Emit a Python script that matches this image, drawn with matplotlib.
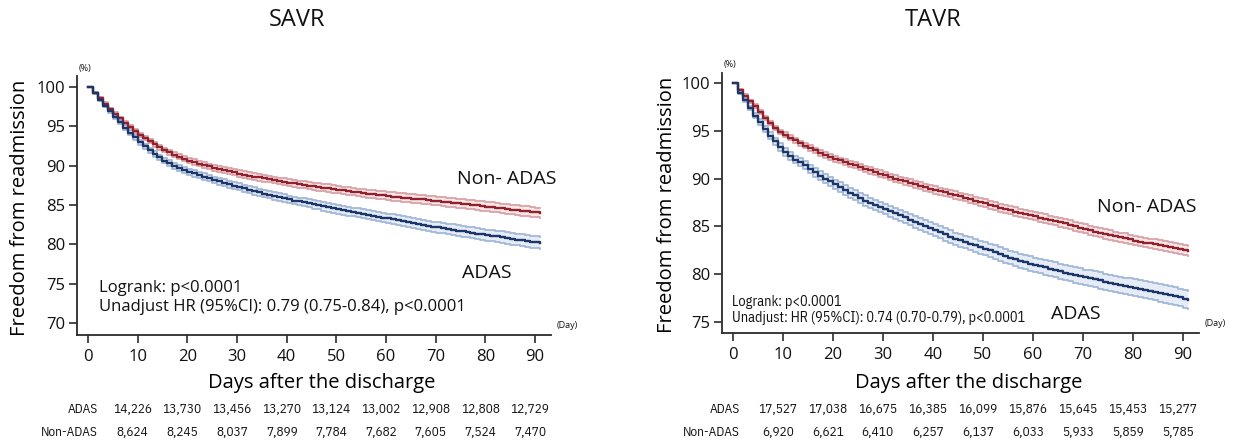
import matplotlib
matplotlib.use("Agg")
import matplotlib.pyplot as plt
import matplotlib.transforms as mtransforms

# ---- data (one value per day, 0..91) ----
DAYS = list(range(0, 92))

savr_non = [100, 99.3, 98.6, 97.9, 97.2, 96.6, 96.0, 95.4, 94.9, 94.4,
            93.9, 93.5, 93.1, 92.7, 92.35, 92.0, 91.7, 91.4, 91.15, 90.9,
            90.65, 90.45, 90.25, 90.07, 89.9, 89.75, 89.6, 89.45, 89.3, 89.15,
            89.0, 88.87, 88.75, 88.62, 88.5, 88.4, 88.3, 88.17, 88.05, 87.95,
            87.85, 87.75, 87.65, 87.55, 87.45, 87.38, 87.3, 87.22, 87.15, 87.05,
            86.95, 86.87, 86.8, 86.7, 86.6, 86.52, 86.45, 86.37, 86.3, 86.22,
            86.15, 86.07, 86.0, 85.95, 85.9, 85.82, 85.75, 85.7, 85.65, 85.57,
            85.5, 85.42, 85.35, 85.3, 85.25, 85.17, 85.1, 85.02, 84.95, 84.87,
            84.8, 84.72, 84.65, 84.57, 84.5, 84.42, 84.35, 84.27, 84.2, 84.12,
            84.05, 84.0]
savr_adas = [100, 99.2, 98.4, 97.6, 96.9, 96.2, 95.5, 94.85, 94.2, 93.6,
             93.0, 92.45, 91.95, 91.5, 91.05, 90.65, 90.3, 90.0, 89.75, 89.5,
             89.25, 89.02, 88.8, 88.6, 88.4, 88.2, 88.0, 87.82, 87.65, 87.47,
             87.3, 87.12, 86.95, 86.77, 86.6, 86.45, 86.3, 86.15, 86.0, 85.85,
             85.7, 85.57, 85.45, 85.32, 85.2, 85.07, 84.95, 84.82, 84.7, 84.57,
             84.45, 84.32, 84.2, 84.1, 84.0, 83.87, 83.75, 83.62, 83.5, 83.4,
             83.3, 83.2, 83.1, 82.97, 82.85, 82.72, 82.6, 82.47, 82.35, 82.25,
             82.15, 82.05, 81.95, 81.85, 81.75, 81.65, 81.55, 81.45, 81.35, 81.25,
             81.15, 81.07, 81.0, 80.9, 80.8, 80.7, 80.6, 80.52, 80.45, 80.35,
             80.25, 80.2]
savr_non_ci = [0, 0.1, 0.13, 0.16, 0.18, 0.2, 0.22, 0.23, 0.24, 0.25,
               0.26, 0.27, 0.28, 0.29, 0.3, 0.31, 0.31, 0.32, 0.33, 0.33,
               0.34, 0.35, 0.35, 0.36, 0.36, 0.37, 0.37, 0.38, 0.38, 0.39,
               0.39, 0.40, 0.40, 0.41, 0.41, 0.42, 0.42, 0.43, 0.43, 0.43,
               0.44, 0.44, 0.44, 0.45, 0.45, 0.46, 0.46, 0.46, 0.47, 0.47,
               0.48, 0.48, 0.48, 0.49, 0.49, 0.50, 0.50, 0.50, 0.51, 0.51,
               0.52, 0.52, 0.52, 0.53, 0.53, 0.54, 0.54, 0.54, 0.55, 0.55,
               0.56, 0.56, 0.56, 0.57, 0.57, 0.58, 0.58, 0.58, 0.59, 0.59,
               0.60, 0.60, 0.60, 0.61, 0.61, 0.61, 0.62, 0.62, 0.62, 0.63,
               0.63, 0.63]
savr_adas_ci = [0, 0.12, 0.16, 0.19, 0.21, 0.23, 0.25, 0.27, 0.28, 0.3,
                0.31, 0.32, 0.33, 0.34, 0.35, 0.36, 0.37, 0.37, 0.38, 0.39,
                0.39, 0.40, 0.40, 0.41, 0.41, 0.42, 0.42, 0.43, 0.43, 0.44,
                0.44, 0.45, 0.45, 0.46, 0.46, 0.47, 0.47, 0.48, 0.48, 0.49,
                0.49, 0.50, 0.50, 0.51, 0.51, 0.52, 0.52, 0.53, 0.53, 0.54,
                0.54, 0.55, 0.55, 0.56, 0.56, 0.57, 0.57, 0.58, 0.58, 0.59,
                0.59, 0.60, 0.61, 0.61, 0.62, 0.62, 0.63, 0.63, 0.64, 0.64,
                0.65, 0.66, 0.66, 0.67, 0.67, 0.68, 0.68, 0.69, 0.70, 0.70,
                0.71, 0.71, 0.72, 0.73, 0.73, 0.74, 0.74, 0.75, 0.76, 0.76,
                0.77, 0.78]

tavr_non = [100, 99.3, 98.7, 98.1, 97.6, 97.0, 96.4, 95.8, 95.3, 94.9,
            94.6, 94.3, 94.0, 93.7, 93.45, 93.2, 92.95, 92.7, 92.5, 92.3,
            92.1, 91.9, 91.7, 91.55, 91.4, 91.2, 91.0, 90.85, 90.7, 90.52,
            90.35, 90.17, 90.0, 89.85, 89.7, 89.55, 89.4, 89.25, 89.1, 88.95,
            88.8, 88.67, 88.55, 88.42, 88.3, 88.15, 88.0, 87.85, 87.7, 87.55,
            87.4, 87.25, 87.1, 86.95, 86.8, 86.67, 86.55, 86.42, 86.3, 86.17,
            86.05, 85.92, 85.8, 85.67, 85.55, 85.42, 85.3, 85.15, 85.0, 84.87,
            84.75, 84.6, 84.45, 84.32, 84.2, 84.07, 83.95, 83.85, 83.75, 83.62,
            83.5, 83.4, 83.3, 83.2, 83.1, 83.0, 82.9, 82.82, 82.75, 82.62,
            82.5, 82.4]
tavr_adas = [100, 99.0, 98.2, 97.4, 96.6, 95.9, 95.2, 94.5, 93.9, 93.3,
             92.8, 92.4, 92.0, 91.7, 91.4, 91.0, 90.65, 90.3, 90.0, 89.7,
             89.4, 89.1, 88.8, 88.52, 88.25, 87.97, 87.7, 87.47, 87.25, 87.02,
             86.8, 86.57, 86.35, 86.15, 85.95, 85.7, 85.45, 85.22, 85.0, 84.8,
             84.6, 84.37, 84.15, 83.92, 83.7, 83.52, 83.35, 83.17, 83.0, 82.82,
             82.65, 82.47, 82.3, 82.1, 81.9, 81.72, 81.55, 81.4, 81.25, 81.1,
             80.95, 80.82, 80.7, 80.57, 80.45, 80.3, 80.15, 80.02, 79.9, 79.77,
             79.65, 79.55, 79.45, 79.32, 79.2, 79.07, 78.95, 78.85, 78.75, 78.65,
             78.55, 78.45, 78.35, 78.25, 78.15, 78.02, 77.9, 77.8, 77.7, 77.55,
             77.4, 77.25]
tavr_non_ci = [0, 0.1, 0.13, 0.16, 0.18, 0.2, 0.21, 0.22, 0.23, 0.24,
               0.25, 0.26, 0.27, 0.27, 0.28, 0.29, 0.29, 0.3, 0.3, 0.31,
               0.31, 0.31, 0.32, 0.32, 0.32, 0.33, 0.33, 0.33, 0.34, 0.34,
               0.34, 0.35, 0.35, 0.35, 0.36, 0.36, 0.36, 0.37, 0.37, 0.37,
               0.38, 0.38, 0.38, 0.39, 0.39, 0.39, 0.40, 0.40, 0.40, 0.41,
               0.41, 0.41, 0.42, 0.42, 0.42, 0.43, 0.43, 0.43, 0.44, 0.44,
               0.44, 0.45, 0.45, 0.45, 0.46, 0.46, 0.46, 0.47, 0.47, 0.47,
               0.48, 0.48, 0.48, 0.49, 0.49, 0.49, 0.50, 0.50, 0.50, 0.51,
               0.51, 0.51, 0.52, 0.52, 0.52, 0.53, 0.53, 0.53, 0.54, 0.54,
               0.54, 0.55]
tavr_adas_ci = [0, 0.15, 0.2, 0.24, 0.27, 0.3, 0.32, 0.34, 0.36, 0.38,
                0.39, 0.4, 0.41, 0.42, 0.43, 0.44, 0.45, 0.46, 0.47, 0.48,
                0.49, 0.50, 0.50, 0.51, 0.52, 0.52, 0.53, 0.54, 0.54, 0.55,
                0.56, 0.56, 0.57, 0.58, 0.58, 0.59, 0.60, 0.60, 0.61, 0.62,
                0.62, 0.63, 0.64, 0.64, 0.65, 0.66, 0.66, 0.67, 0.68, 0.68,
                0.69, 0.70, 0.70, 0.71, 0.72, 0.72, 0.73, 0.74, 0.74, 0.75,
                0.76, 0.76, 0.77, 0.78, 0.78, 0.79, 0.80, 0.80, 0.81, 0.82,
                0.82, 0.83, 0.84, 0.84, 0.85, 0.86, 0.86, 0.87, 0.88, 0.88,
                0.89, 0.89, 0.90, 0.90, 0.91, 0.91, 0.92, 0.92, 0.93, 0.93,
                0.94, 0.94]

# numbers at risk (days 10..90)
RISK_DAYS = [10, 20, 30, 40, 50, 60, 70, 80, 90]
savr_risk_adas = ["14,226", "13,730", "13,456", "13,270", "13,124", "13,002", "12,908", "12,808", "12,729"]
savr_risk_non = ["8,624", "8,245", "8,037", "7,899", "7,784", "7,682", "7,605", "7,524", "7,470"]
tavr_risk_adas = ["17,527", "17,038", "16,675", "16,385", "16,099", "15,876", "15,645", "15,453", "15,277"]
tavr_risk_non = ["6,920", "6,621", "6,410", "6,257", "6,137", "6,033", "5,933", "5,859", "5,785"]

RED, RED_BAND, RED_FILL = "#92212d", "#d9a3a8", "#f6e8e9"
BLUE, BLUE_BAND, BLUE_FILL = "#1c3669", "#a2b8d8", "#e6ecf5"
AX_COL = "#2b2b2b"
TXT = "#111111"

FONT = ["Open Sans", "DejaVu Sans"]
NARROW = ["IBM Plex Sans Condensed", "Open Sans", "DejaVu Sans"]
plt.rcParams["font.family"] = FONT
plt.rcParams["text.color"] = TXT


def km(ax, surv, ci, line_col, band_col, fill_col):
    lo = [s - c for s, c in zip(surv, ci)]
    hi = [s + c for s, c in zip(surv, ci)]
    ax.fill_between(DAYS, lo, hi, step="post", color=fill_col, lw=0, zorder=1)
    ax.step(DAYS, lo, where="post", color=band_col, lw=1.3, zorder=2)
    ax.step(DAYS, hi, where="post", color=band_col, lw=1.3, zorder=2)
    ax.step(DAYS, surv, where="post", color=line_col, lw=1.7, zorder=3)


def panel(ax, non, non_ci, adas, adas_ci, ylim, yticks):
    km(ax, non, non_ci, RED, RED_BAND, RED_FILL)
    km(ax, adas, adas_ci, BLUE, BLUE_BAND, BLUE_FILL)
    ax.set_xlim(-2.2, 93.2)
    ax.set_ylim(*ylim)
    ax.set_xticks(range(0, 91, 10))
    ax.set_yticks(yticks)
    for s in ["top", "right"]:
        ax.spines[s].set_visible(False)
    for s in ["left", "bottom"]:
        ax.spines[s].set_color(AX_COL)
        ax.spines[s].set_linewidth(1.3)
    ax.tick_params(axis="both", colors=AX_COL, labelcolor=TXT, width=1.2, length=5.5, labelsize=12)
    ax.tick_params(axis="x", pad=4.5)
    ax.tick_params(axis="y", pad=3)
    ax.set_ylabel("Freedom from readmission", fontsize=14.5, va="center")
    ax.set_xlabel("Days after the discharge", fontsize=14.5, va="center")
    ax.text(0.017, 1.03, "(%)", transform=ax.transAxes, fontsize=6.5, ha="center", va="center")
    ax.text(1.034, 0.036, "(Day)", transform=ax.transAxes, fontsize=6.5, ha="center", va="center")


def risk_table(fig, ax, adas, non, label_x):
    tr = mtransforms.blended_transform_factory(ax.transData, fig.transFigure)
    for row_y, name, vals in [(0.0766, "ADAS", adas), (0.0248, "Non-ADAS", non)]:
        ax.text(label_x, row_y, name, transform=tr, ha="right", va="center", fontsize=9.5, family=NARROW)
        for d, v in zip(RISK_DAYS, vals):
            ax.text(d - 1, row_y, v, transform=tr, ha="center", va="center", fontsize=9.5, family=NARROW)


fig = plt.figure(figsize=(12.34, 4.44), dpi=100)
ax1 = fig.add_axes([0.0624, 0.2455, 0.3841, 0.5833])
ax2 = fig.add_axes([0.5849, 0.2507, 0.3868, 0.5856])

# SAVR
panel(ax1, savr_non, savr_non_ci, savr_adas, savr_adas_ci, (68.47, 101.4), [70, 75, 80, 85, 90, 95, 100])
ax1.yaxis.set_label_coords(-0.12, 0.49)
ax1.xaxis.set_label_coords(0.517, -0.185)
ax1.text(84.3, 88.3, "Non- ADAS", fontsize=14, ha="center", va="center")
ax1.text(80.3, 76.35, "ADAS", fontsize=14, ha="center", va="center")
ax1.text(2.2, 74.45, "Logrank: p<0.0001", fontsize=12, va="center")
ax1.text(2.2, 72.0, "Unadjust HR (95%CI): 0.79 (0.75-0.84), p<0.0001", fontsize=12, va="center")
risk_table(fig, ax1, savr_risk_adas, savr_risk_non, 2.0)
fig.text(297 / 1234, 1 - 20.5 / 444, "SAVR", fontsize=17, fontweight="medium", ha="center", va="center")

# TAVR
panel(ax2, tavr_non, tavr_non_ci, tavr_adas, tavr_adas_ci, (73.85, 101.1), [75, 80, 85, 90, 95, 100])
ax2.yaxis.set_label_coords(-0.115, 0.49)
ax2.xaxis.set_label_coords(0.518, -0.193)
ax2.text(82.8, 87.0, "Non- ADAS", fontsize=14, ha="center", va="center")
ax2.text(68.5, 75.8, "ADAS", fontsize=14, ha="center", va="center")
ax2.text(-0.2, 77.1, "Logrank: p<0.0001", fontsize=10.3, va="center", family=NARROW)
ax2.text(-0.2, 75.4, "Unadjust: HR (95%CI): 0.74 (0.70-0.79), p<0.0001", fontsize=10.3, va="center", family=NARROW)
risk_table(fig, ax2, tavr_risk_adas, tavr_risk_non, 1.46)
fig.text(933 / 1234, 1 - 20.5 / 444, "TAVR", fontsize=17, fontweight="medium", ha="center", va="center")

fig.savefig("out.png", dpi=100)
